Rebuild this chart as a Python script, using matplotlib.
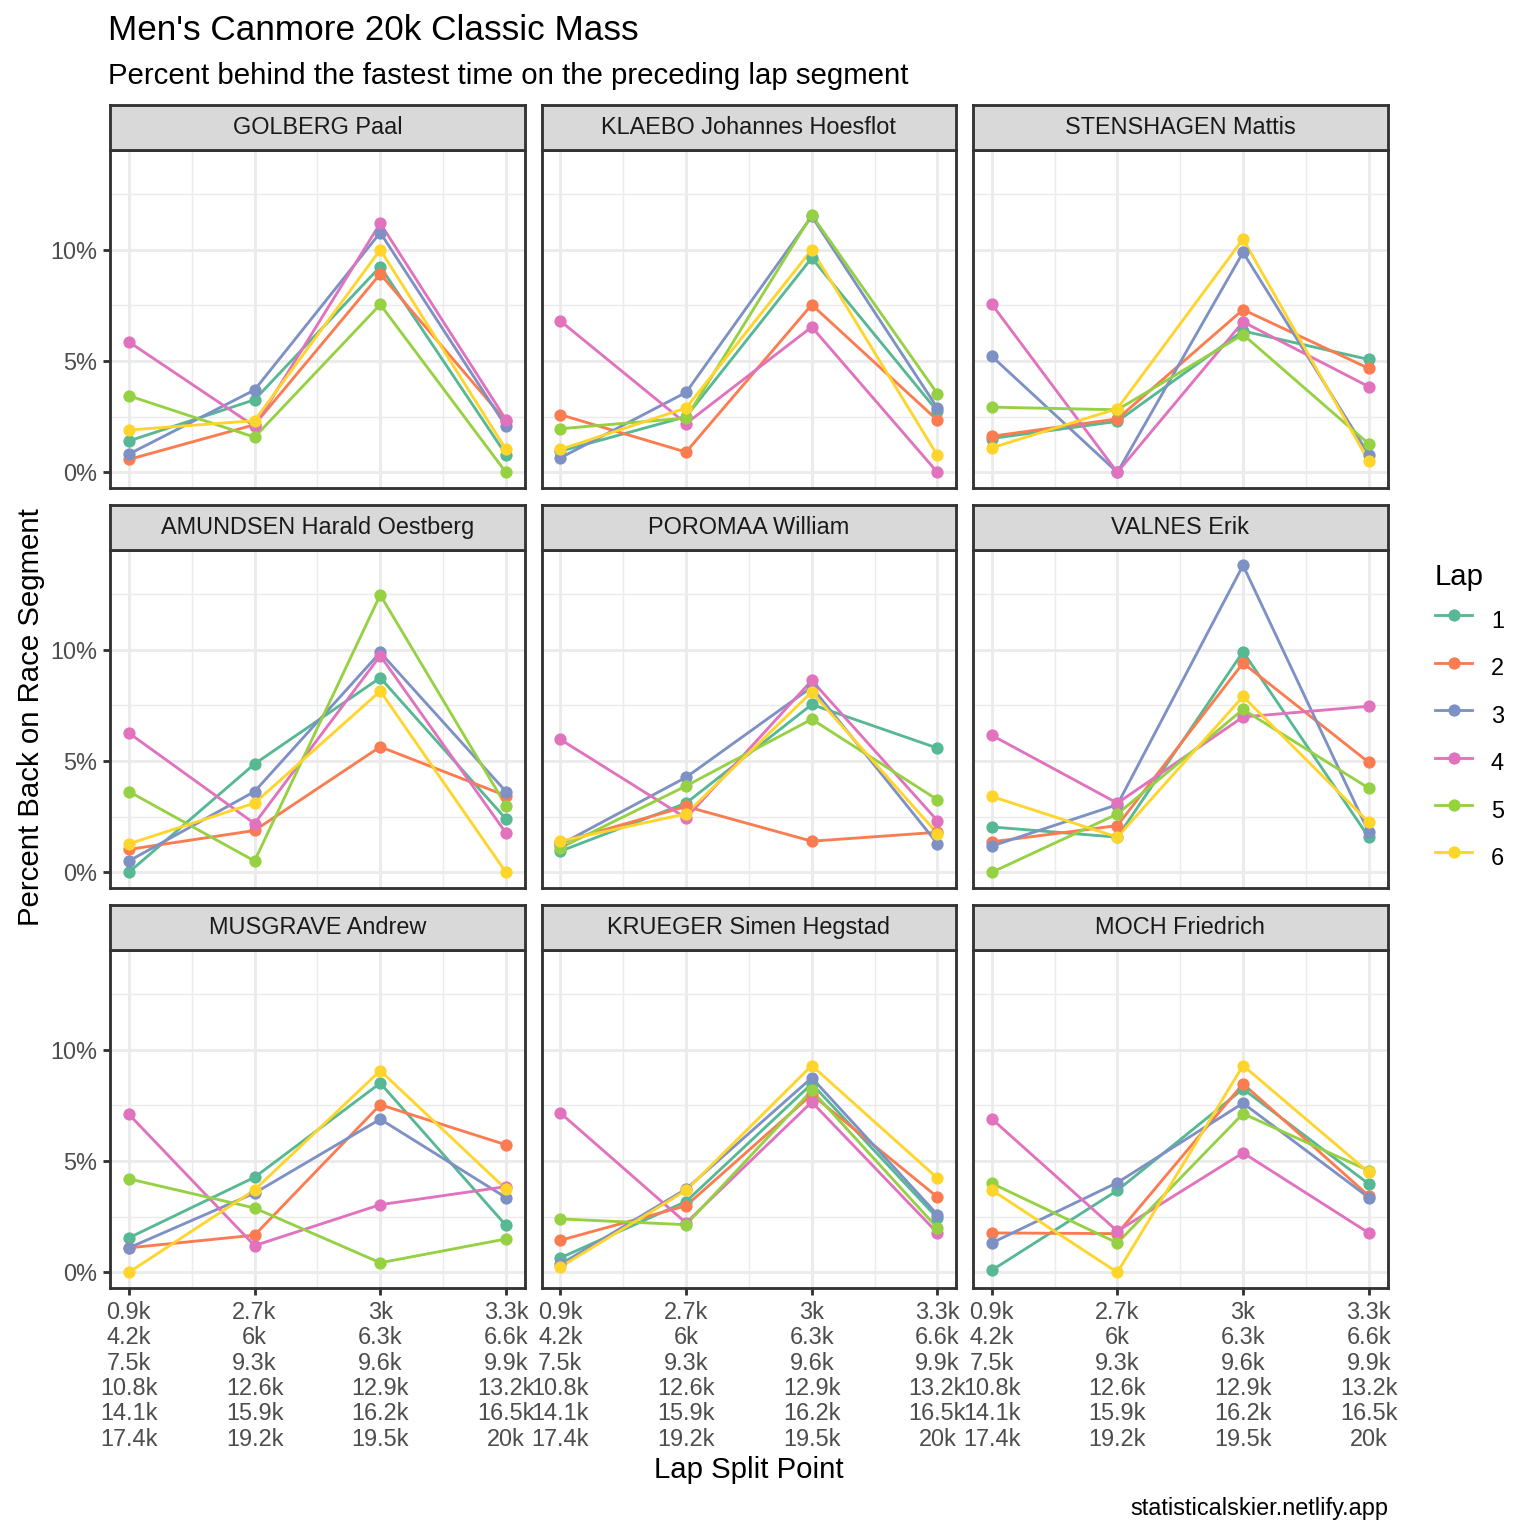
import matplotlib
matplotlib.use("Agg")
import matplotlib.pyplot as plt
from matplotlib.lines import Line2D

plt.rcParams['font.family'] = ['Liberation Sans', 'DejaVu Sans']

# ================= data =================
athletes = ["GOLBERG Paal", "KLAEBO Johannes Hoesflot", "STENSHAGEN Mattis",
            "AMUNDSEN Harald Oestberg", "POROMAA William", "VALNES Erik",
            "MUSGRAVE Andrew", "KRUEGER Simen Hegstad", "MOCH Friedrich"]
split_pos = [1, 2, 3, 4]
split_labels = ["0.9k\n4.2k\n7.5k\n10.8k\n14.1k\n17.4k",
                "2.7k\n6k\n9.3k\n12.6k\n15.9k\n19.2k",
                "3k\n6.3k\n9.6k\n12.9k\n16.2k\n19.5k",
                "3.3k\n6.6k\n9.9k\n13.2k\n16.5k\n20k"]
laps = ["1", "2", "3", "4", "5", "6"]
lap_colors = ["#57B894", "#FB7C50", "#7E91C5", "#E172BE", "#95D143", "#FFD42B"]

# percent back, one row per lap (1..6), one column per split point
golberg = [[1.41, 3.26, 9.24, 0.80],
           [0.58, 2.14, 8.91, 2.30],
           [0.82, 3.70, 10.77, 2.07],
           [5.86, 2.07, 11.19, 2.37],
           [3.44, 1.58, 7.54, 0.00],
           [1.90, 2.32, 10.00, 1.03]]
klaebo = [[0.95, 2.50, 9.63, 2.74],
          [2.59, 0.91, 7.53, 2.34],
          [0.65, 3.59, 11.50, 2.89],
          [6.80, 2.19, 6.53, 0.00],
          [1.96, 2.44, 11.56, 3.53],
          [1.03, 2.89, 10.00, 0.76]]
stenshagen = [[1.52, 2.29, 6.35, 5.07],
              [1.62, 2.40, 7.31, 4.67],
              [5.22, 0.00, 9.88, 0.80],
              [7.56, 0.00, 6.76, 3.85],
              [2.93, 2.81, 6.19, 1.28],
              [1.10, 2.86, 10.48, 0.50]]
amundsen = [[0.00, 4.87, 8.74, 2.40],
            [1.03, 1.88, 5.64, 3.44],
            [0.51, 3.63, 9.88, 3.63],
            [6.26, 2.19, 9.73, 1.77],
            [3.63, 0.51, 12.46, 3.00],
            [1.28, 3.11, 8.14, 0.00]]
poromaa = [[0.95, 3.11, 7.54, 5.58],
           [1.35, 2.96, 1.40, 1.80],
           [1.25, 4.27, 8.32, 1.29],
           [5.97, 2.44, 8.62, 2.32],
           [1.10, 3.88, 6.88, 3.26],
           [1.40, 2.63, 8.10, 1.74]]
valnes = [[2.04, 1.58, 9.91, 1.58],
          [1.37, 2.10, 9.40, 4.94],
          [1.18, 3.04, 13.79, 1.80],
          [6.16, 3.11, 6.98, 7.46],
          [0.00, 2.62, 7.32, 3.78],
          [3.41, 1.58, 7.90, 2.25]]
musgrave = [[1.55, 4.27, 8.50, 2.11],
            [1.10, 1.67, 7.53, 5.73],
            [1.10, 3.56, 6.88, 3.36],
            [7.10, 1.20, 3.04, 3.85],
            [4.20, 2.89, 0.43, 1.50],
            [0.00, 3.70, 9.06, 3.74]]
krueger = [[0.65, 3.18, 8.47, 2.44],
           [1.44, 2.99, 7.99, 3.38],
           [0.36, 3.74, 8.74, 2.59],
           [7.16, 2.22, 7.65, 1.77],
           [2.40, 2.14, 8.17, 1.99],
           [0.24, 3.68, 9.29, 4.23]]
moch = [[0.09, 3.68, 8.24, 3.97],
        [1.77, 1.74, 8.47, 3.44],
        [1.32, 4.03, 7.60, 3.36],
        [6.90, 1.85, 5.37, 1.77],
        [4.00, 1.32, 7.13, 4.57],
        [3.70, 0.00, 9.29, 4.49]]

panels = [golberg, klaebo, stenshagen, amundsen, poromaa, valnes,
          musgrave, krueger, moch]

# ================= layout (pixels on a 1536 canvas) =================
W = 1536.0
COL_X = [110.0, 541.5, 972.8]
ROW_Y = [150.0, 550.0, 950.0]
PW, PH = 414.8, 337.7
STRIP_H = 45.5

GRID = '#EBEBEB'
DARK = '#333333'
LW = 1.07


def box(x0, y0, w, h):
    return [x0 / W, 1 - (y0 + h) / W, w / W, h / W]


all_vals = [v for p in panels for lap in p for v in lap]
ymin, ymax = min(all_vals), max(all_vals)
rng = ymax - ymin
ylim = (ymin - 0.05 * rng, ymax + 0.05 * rng)
xlim = (1 - 0.05 * 3, 4 + 0.05 * 3)

fig = plt.figure(figsize=(8, 8), dpi=192)

for i, (name, data) in enumerate(zip(athletes, panels)):
    r, c = divmod(i, 3)
    ax = fig.add_axes(box(COL_X[c], ROW_Y[r], PW, PH))
    ax.set_xlim(*xlim)
    ax.set_ylim(*ylim)
    ax.set_axisbelow(True)

    ax.set_xticks(split_pos)
    ax.set_xticks([1.5, 2.5, 3.5], minor=True)
    ax.set_yticks([0, 5, 10])
    ax.set_yticks([2.5, 7.5, 12.5], minor=True)
    ax.grid(which='major', color=GRID, lw=LW)
    ax.grid(which='minor', color=GRID, lw=LW / 2)

    # lines first, then points (ggplot layer order)
    for lap_vals, col in zip(data, lap_colors):
        ax.plot(split_pos, lap_vals, color=col, lw=LW, zorder=2,
                solid_capstyle='butt')
    for lap_vals, col in zip(data, lap_colors):
        ax.plot(split_pos, lap_vals, ls='none', marker='o', ms=4.6,
                mfc=col, mec=col, mew=0, zorder=3)

    for sp in ax.spines.values():
        sp.set_color(DARK)
        sp.set_linewidth(LW)
        sp.set_zorder(5)

    ax.tick_params(which='minor', length=0)
    ax.tick_params(which='major', length=2.75, width=LW, color=DARK,
                   labelcolor='#4D4D4D', labelsize=8.8, pad=2.2)
    if c == 0:
        ax.set_yticklabels(["0%", "5%", "10%"])
    else:
        ax.tick_params(axis='y', length=0, labelleft=False)
    if r == 2:
        ax.set_xticklabels(split_labels, linespacing=1.13)
    else:
        ax.tick_params(axis='x', length=0, labelbottom=False)

    # facet strip
    sax = fig.add_axes(box(COL_X[c], ROW_Y[r] - STRIP_H, PW, STRIP_H))
    sax.set_facecolor('#D9D9D9')
    sax.set_xticks([])
    sax.set_yticks([])
    for sp in sax.spines.values():
        sp.set_color(DARK)
        sp.set_linewidth(LW)
    sax.text(0.5, 0.5, name, ha='center', va='center', fontsize=8.8,
             color='#1A1A1A', transform=sax.transAxes)

# titles
fig.text(108 / W, 1 - 40 / W, "Men's Canmore 20k Classic Mass",
         fontsize=13.2, color='black', va='baseline', ha='left')
fig.text(108 / W, 1 - 83.5 / W, "Percent behind the fastest time on the preceding lap segment",
         fontsize=11, color='black', va='baseline', ha='left')
fig.text((COL_X[0] + COL_X[2] + PW) / 2 / W, 1 - 1470 / W, "Lap Split Point",
         fontsize=11, ha='center', va='center')
fig.text(31 / W, 1 - 717 / W, "Percent Back on Race Segment",
         fontsize=11, rotation=90, ha='center', va='center')
fig.text(1388 / W, 1 - 1515 / W, "statisticalskier.netlify.app",
         fontsize=8.8, ha='right', va='baseline')

# legend
handles = [Line2D([], [], color=col, lw=LW, marker='o', ms=4.6, mew=0)
           for col in lap_colors]
leg = fig.legend(handles, laps, title='Lap', loc='upper left',
                 bbox_to_anchor=(1435 / W, 1 - 563 / W), frameon=False,
                 fontsize=8.8, title_fontsize=11, handlelength=1.58,
                 handleheight=1.96, labelspacing=0.5, handletextpad=0.8,
                 borderpad=0, borderaxespad=0, alignment='left')

fig.savefig('out.png', dpi=192)
